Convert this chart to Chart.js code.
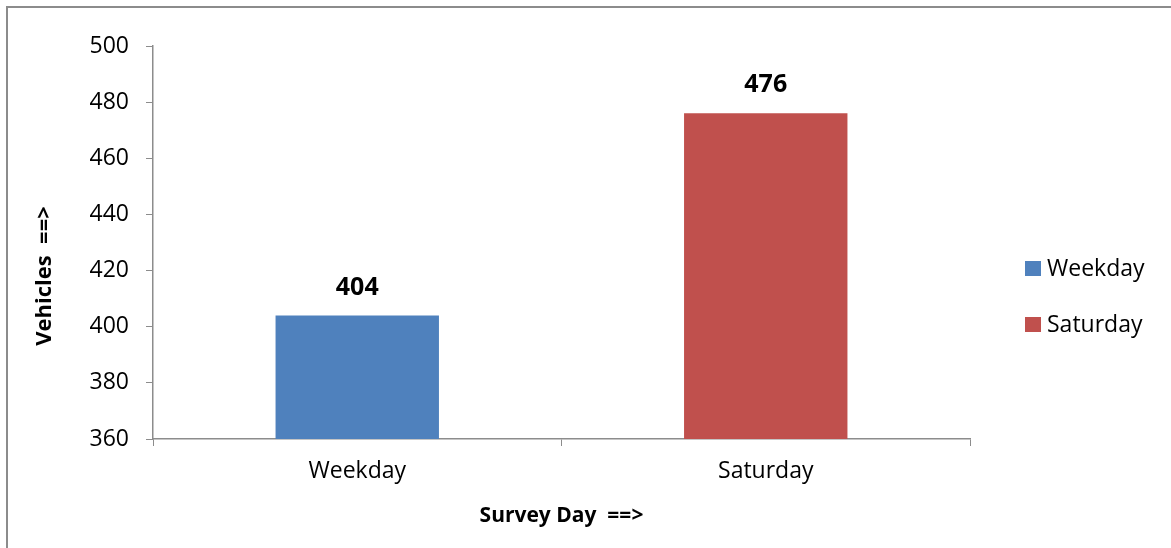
<!DOCTYPE html>
<html>
<head>
<meta charset="utf-8">
<script src="https://cdn.jsdelivr.net/npm/chart.js@4.4.1/dist/chart.umd.min.js"></script>
<style>
  html, body { margin: 0; padding: 0; background: #fff; }
  #wrap { position: relative; width: 1171px; height: 548px; overflow: hidden; }
  #frame { position: absolute; left: 6px; top: 6px; width: 1300px; height: 700px; border: 2px solid #8c8c8c; }
  #chart { position: absolute; left: 0; top: 0; }
</style>
</head>
<body>
<div id="wrap">
  <div id="frame"></div>
  <canvas id="chart" width="1171" height="548"></canvas>
</div>
<script>
// survey counts per day
const categories = ["Weekday", "Saturday"];
const vehicles = [404, 476];
const barColors = ["#4F81BD", "#C0504D"];
const yMin = 360, yMax = 500, yStep = 20;

const font = "'Open Sans', 'Liberation Sans', sans-serif";
const axisGray = "#8c8c8c";

// value labels above the bars
const valueLabels = {
  id: "valueLabels",
  afterDatasetsDraw(chart) {
    const ctx = chart.ctx;
    const meta = chart.getDatasetMeta(0);
    ctx.save();
    ctx.font = "bold 25px " + font;
    ctx.fillStyle = "#000";
    ctx.textAlign = "center";
    ctx.textBaseline = "middle";
    meta.data.forEach((bar, i) => {
      ctx.fillText(String(vehicles[i]), bar.x, bar.y - 28);
    });
    ctx.restore();
  },
};

// y title sits a bit below the middle, like the original
const yTitle = {
  id: "yTitle",
  afterDraw(chart) {
    const ctx = chart.ctx;
    ctx.save();
    ctx.translate(45, 276);
    ctx.rotate(-Math.PI / 2);
    ctx.font = "bold 22px " + font;
    ctx.fillStyle = "#000";
    ctx.textAlign = "center";
    ctx.textBaseline = "middle";
    ctx.fillText("Vehicles  ==>", 0, 0);
    ctx.restore();
  },
};

// legend on the right, one entry per category
const sideLegend = {
  id: "sideLegend",
  afterDraw(chart) {
    const ctx = chart.ctx;
    const ys = [269, 325];
    ctx.save();
    ctx.font = "23px " + font;
    ctx.textBaseline = "middle";
    chart.data.labels.forEach((lab, i) => {
      ctx.fillStyle = chart.data.datasets[0].backgroundColor[i];
      ctx.fillRect(1025, ys[i] - 8, 16, 15);
      ctx.fillStyle = "#000";
      ctx.fillText(lab, 1047, ys[i]);
    });
    ctx.restore();
  },
};

new Chart(document.getElementById("chart"), {
  type: "bar",
  data: {
    labels: categories,
    datasets: [
      {
        label: "Vehicles",
        data: vehicles,
        backgroundColor: barColors,
        borderWidth: 0,
        barPercentage: 0.4,
        categoryPercentage: 1.0,
      },
    ],
  },
  options: {
    responsive: false,
    animation: false,
    layout: { padding: { top: 46, right: 201, bottom: 0, left: 0 } },
    plugins: {
      legend: { display: false },
      tooltip: { enabled: false },
    },
    scales: {
      x: {
        grid: {
          display: true,
          drawOnChartArea: false,
          drawTicks: true,
          tickLength: 7,
          color: axisGray,
          offset: true,
        },
        border: { display: true, color: axisGray, width: 1.5 },
        ticks: { color: "#000", font: { family: font, size: 23 }, padding: 12 },
        title: {
          display: true,
          text: "Survey Day  ==>",
          color: "#000",
          font: { family: font, size: 21, weight: "bold" },
          padding: { top: 4, bottom: 19 },
        },
        afterFit(scale) { scale.height = 109; },
      },
      y: {
        min: yMin,
        max: yMax,
        grid: {
          display: true,
          drawOnChartArea: false,
          drawTicks: true,
          tickLength: 7,
          color: axisGray,
        },
        border: { display: true, color: axisGray, width: 1.5 },
        ticks: {
          stepSize: yStep,
          color: "#000",
          font: { family: font, size: 23 },
          padding: 17,
        },
        afterFit(scale) { scale.width = 153; },
      },
    },
  },
  plugins: [valueLabels, yTitle, sideLegend],
});
</script>
</body>
</html>
